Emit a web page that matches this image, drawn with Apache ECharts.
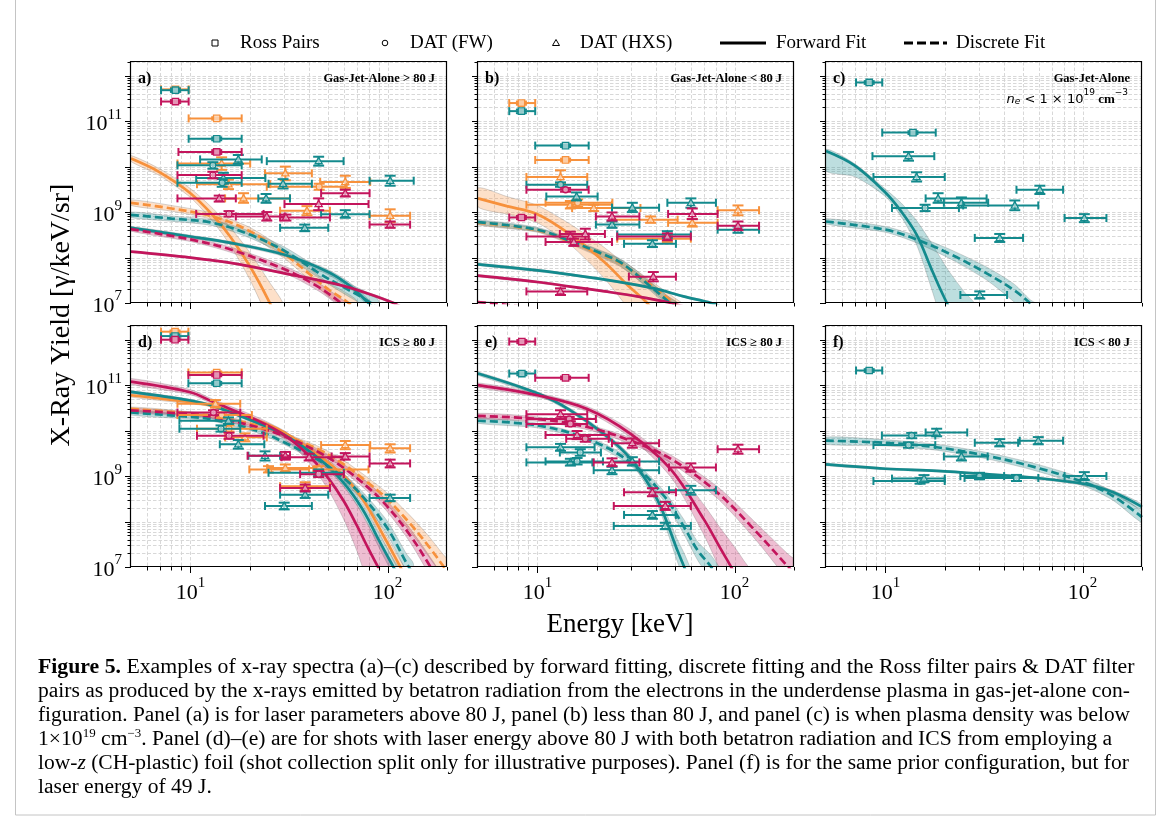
<!DOCTYPE html>
<html>
<head>
<meta charset="utf-8">
<script src="https://cdn.jsdelivr.net/npm/echarts@6/dist/echarts.min.js"></script>
<style>
  html, body { margin: 0; padding: 0; background: #fff; }
  #chart { width: 1168px; height: 821px; }
</style>
</head>
<body>
<div id="chart"></div>
<script>
// point rows: [E, Elo, Ehi, Y, Ylo, Yhi, marker]  marker 0 = Ross pair, 1 = DAT (FW), 2 = DAT (HXS)
// curve rows: [E, Y, Ylo, Yhi]

// ---- panel a : Gas-Jet-Alone > 80 J
const aOrange = [
  [8.4, 7.1, 9.8, 5.0e11, 4.6e11, 5.4e11, 0], [13.6, 9.8, 18.2, 1.15e11, 1.08e11, 1.22e11, 0],
  [14.4, 8.6, 20.1, 1.17e10, 8.5e9, 1.6e10, 2], [15.6, 10.8, 25.4, 4.1e9, 3.2e9, 5.2e9, 2],
  [30.3, 23.9, 41.3, 7.1e9, 5.0e9, 1.0e10, 2], [61, 45.5, 81.6, 4.6e9, 3.4e9, 6.3e9, 2],
  [45, 24.4, 62, 3.6e9, 3.1e9, 4.2e9, 1], [18.6, 15, 32, 2.0e9, 1.6e9, 2.6e9, 2],
  [39, 28.5, 51, 1.07e9, 8.5e8, 1.35e9, 2], [103, 81, 130, 8.3e8, 6.0e8, 1.15e9, 2]
];
const aTeal = [
  [8.4, 7.1, 9.8, 4.8e11, 4.4e11, 5.2e11, 0], [13.6, 9.8, 18.2, 4.1e10, 3.8e10, 4.4e10, 0],
  [17.5, 11.2, 23.0, 1.44e10, 1.15e10, 1.8e10, 2], [13.0, 8.6, 18.2, 1.07e10, 9.0e9, 1.25e10, 1],
  [44.7, 24.4, 59.8, 1.32e10, 1.05e10, 1.65e10, 2], [14.7, 10.7, 24.0, 5.6e9, 4.2e9, 7.3e9, 2],
  [14.5, 8.6, 18.2, 4.4e9, 3.6e9, 5.3e9, 1], [29.5, 24.9, 41.3, 4.2e9, 3.3e9, 5.3e9, 2],
  [103, 81, 135.6, 4.9e9, 3.8e9, 6.3e9, 2], [24.2, 22.1, 32, 2.0e9, 1.6e9, 2.5e9, 2],
  [61, 46, 81, 9.0e8, 7.5e8, 1.1e9, 2], [38, 28.5, 50, 4.5e8, 3.8e8, 5.3e8, 2]
];
const aMagenta = [
  [8.4, 7.1, 9.8, 2.7e11, 2.5e11, 2.9e11, 0], [13.6, 8.7, 18.2, 2.1e10, 1.9e10, 2.3e10, 0],
  [13.0, 8.6, 18.2, 6.5e9, 5.5e9, 7.7e9, 1], [61, 46, 81, 2.6e9, 2.2e9, 3.1e9, 2],
  [14.0, 8.6, 17.0, 2.0e9, 1.7e9, 2.3e9, 2], [44.7, 30, 80, 1.5e9, 1.1e9, 2.0e9, 2],
  [15.7, 10.7, 23.5, 9.1e8, 8.0e8, 1.05e9, 1], [24.4, 17, 30, 8.0e8, 6.5e8, 1.0e9, 2],
  [30.5, 28.5, 51, 7.6e8, 6.5e8, 8.8e8, 2], [103, 81, 130, 5.3e8, 4.5e8, 6.2e8, 2]
];
const aOrangeFwd = [[5, 1.5e10, 1.3e10, 1.75e10], [7, 7.5e9, 6.3e9, 8.9e9], [10, 2.6e9, 2.1e9, 3.3e9], [13, 8.5e8, 6.2e8, 1.2e9],
  [16, 2.8e8, 1.8e8, 4.5e8], [20, 6.5e7, 3.3e7, 1.3e8], [25, 1.1e7, 4e6, 3e7], [30, 2e6, 5e5, 8e6]];
const aOrangeDisc = [[5, 1.6e9, 1.4e9, 1.85e9], [8, 1.2e9, 1.05e9, 1.4e9], [13, 8e8, 6.8e8, 9.4e8], [20, 3.8e8, 3.1e8, 4.6e8],
  [30, 1.2e8, 9.5e7, 1.5e8], [40, 4.4e7, 3.3e7, 5.8e7], [50, 2e7, 1.4e7, 2.8e7], [60, 1.2e7, 8e6, 1.8e7], [70, 7e6, 4.5e6, 1.1e7]];
const aTealFwd = [[5, 4.5e8, 4.2e8, 4.8e8], [10, 2.9e8, 2.7e8, 3.1e8], [16, 2.1e8, 1.95e8, 2.25e8], [30, 1.15e8, 1.05e8, 1.25e8],
  [50, 4.8e7, 4.2e7, 5.4e7], [65, 2.3e7, 2e7, 2.7e7], [80, 1e7, 8.5e6, 1.2e7], [90, 6e6, 5e6, 7.5e6]];
const aTealDisc = [[5, 8.7e8, 7.6e8, 1e9], [8, 7.2e8, 6.3e8, 8.2e8], [13, 5.8e8, 5e8, 6.7e8], [20, 3.2e8, 2.7e8, 3.8e8],
  [30, 1.4e8, 1.15e8, 1.7e8], [45, 4.5e7, 3.5e7, 5.8e7], [60, 2.2e7, 1.6e7, 3e7], [75, 1.3e7, 9e6, 1.9e7], [90, 7.5e6, 5e6, 1.15e7]];
const aMagentaFwd = [[5, 1.35e8, 1.3e8, 1.4e8], [10, 1e8, 9.6e7, 1.04e8], [16, 7.6e7, 7.3e7, 7.9e7], [30, 4.5e7, 4.3e7, 4.7e7],
  [57, 2.5e7, 2.4e7, 2.6e7], [80, 1.6e7, 1.5e7, 1.7e7], [107, 1e7, 9.4e6, 1.06e7], [125, 7e6, 6.5e6, 7.5e6]];
const aMagentaDisc = [[5, 4.2e8, 3.8e8, 4.6e8], [10, 2.5e8, 2.25e8, 2.8e8], [16, 1.5e8, 1.3e8, 1.7e8], [30, 5.5e7, 4.6e7, 6.5e7],
  [45, 2.2e7, 1.8e7, 2.7e7], [58, 1e7, 8e6, 1.25e7], [65, 6.5e6, 5e6, 8.5e6]];

// ---- panel b : Gas-Jet-Alone < 80 J
const bOrange = [
  [8.3, 7.2, 9.75, 2.5e11, 2.3e11, 2.7e11, 0], [13.9, 9.75, 18.2, 1.4e10, 1.3e10, 1.5e10, 0],
  [13.1, 8.8, 17.9, 5.9e9, 4.2e9, 8.3e9, 2], [14.7, 8.8, 23.9, 1.45e9, 1.2e9, 1.75e9, 2],
  [16, 11, 24, 1.6e9, 1.3e9, 1.9e9, 1], [19.3, 15, 33.3, 1.23e9, 1.05e9, 1.45e9, 2],
  [37.5, 24.4, 51.4, 6.8e8, 5.8e8, 8e8, 2], [104, 82, 133, 1.1e9, 8.5e8, 1.4e9, 2],
  [61, 46, 82, 5.8e8, 4.8e8, 7e8, 2], [45.6, 25.4, 60, 2.6e8, 2.2e8, 3.1e8, 2]
];
const bTeal = [
  [8.3, 7.2, 9.75, 1.66e11, 1.5e11, 1.8e11, 0], [13.9, 9.75, 18.2, 2.9e10, 2.7e10, 3.1e10, 0],
  [13.1, 8.8, 17.9, 4.0e9, 3.6e9, 4.5e9, 1], [15.8, 11.1, 20.2, 2.2e9, 1.8e9, 2.7e9, 2],
  [30.3, 23.9, 41.4, 1.25e9, 1e9, 1.6e9, 2], [60, 45.6, 80.4, 1.6e9, 1.25e9, 2e9, 2],
  [23.9, 19.8, 32.9, 5.3e8, 4.5e8, 6.2e8, 2], [104, 82, 133, 4.1e8, 3.5e8, 4.8e8, 2],
  [45.6, 25.4, 60, 3.2e8, 2.7e8, 3.8e8, 2], [38.3, 27.5, 50.4, 2e8, 1.7e8, 2.4e8, 2]
];
const bMagenta = [
  [8.3, 7.2, 9.75, 7.6e8, 7e8, 8.2e8, 0], [13.9, 8.8, 18.2, 3.1e9, 2.8e9, 3.4e9, 1],
  [23.9, 19.8, 32.9, 8e8, 6.5e8, 9.8e8, 2], [61, 46, 82, 9.1e8, 7e8, 1.2e9, 2],
  [104, 82, 133, 5e8, 4e8, 6.2e8, 2], [45.6, 25.4, 60, 2.9e8, 2.4e8, 3.4e8, 2],
  [14.7, 8.8, 18.2, 2.9e8, 2.2e8, 3.7e8, 2], [17.5, 13, 22, 3.3e8, 2.5e8, 4.3e8, 2],
  [15.3, 11, 23.9, 2.2e8, 1.8e8, 2.6e8, 2], [38.7, 29.1, 50.4, 3.8e7, 3e7, 4.8e7, 2],
  [13.1, 8.8, 17.9, 1.8e7, 1.5e7, 2.1e7, 2]
];
const bOrangeFwd = [[5, 2e9, 1.3e9, 3.4e9], [7, 1.35e9, 9e8, 2.2e9], [10, 9e8, 5.8e8, 1.4e9], [14.7, 3.2e8, 1.9e8, 5.4e8],
  [21.7, 8.2e7, 3.6e7, 1.7e8], [28.6, 2.5e7, 8e6, 6.5e7], [36, 1e7, 2e6, 3.2e7], [45, 3e6, 3e5, 1.5e7], [52, 1e6, 5e4, 9e6]];
const bOrangeDisc = [[5, 5.8e8, 5.2e8, 6.4e8], [10, 4e8, 3.6e8, 4.4e8], [14.7, 2.2e8, 1.95e8, 2.5e8], [20, 1.3e8, 1.1e8, 1.5e8],
  [26.4, 7.5e7, 6.3e7, 9e7], [37.5, 2.5e7, 2e7, 3.1e7], [49, 1e7, 7.5e6, 1.35e7], [56, 6e6, 4.2e6, 8.5e6]];
const bTealFwd = [[5, 7.1e7, 6.7e7, 7.5e7], [10, 5.2e7, 4.9e7, 5.5e7], [14.7, 4.2e7, 4e7, 4.4e7], [25, 3e7, 2.85e7, 3.15e7],
  [39, 2.1e7, 2e7, 2.2e7], [55, 1.4e7, 1.33e7, 1.47e7], [76, 1e7, 9.5e6, 1.05e7], [90, 7.5e6, 7e6, 8e6]];
const bTealDisc = [[5, 6e8, 5.4e8, 6.7e8], [10, 4.1e8, 3.7e8, 4.6e8], [14.7, 2.3e8, 2.05e8, 2.6e8], [20, 1.35e8, 1.15e8, 1.55e8],
  [26.4, 7.8e7, 6.5e7, 9.3e7], [37.5, 2.3e7, 1.85e7, 2.9e7], [47, 1e7, 7.5e6, 1.3e7], [54, 6e6, 4.2e6, 8.5e6]];
const bMagentaFwd = [[5, 4e7, 3.8e7, 4.2e7], [10, 2.9e7, 2.75e7, 3.05e7], [14.7, 2.3e7, 2.2e7, 2.4e7], [22, 1.8e7, 1.72e7, 1.88e7],
  [32, 1.4e7, 1.34e7, 1.46e7], [47.5, 1e7, 9.5e6, 1.05e7], [60, 7.5e6, 7e6, 8e6]];
const bMagentaDisc = [[5, 1.05e7, 1e7, 1.1e7], [8, 8.5e6, 8e6, 9e6], [12, 6.5e6, 6e6, 7e6]];

// ---- panel c : Gas-Jet-Alone, ne < 1e19
const cTeal = [
  [8.28, 7.1, 9.64, 7.1e11, 6.6e11, 7.6e11, 0], [13.8, 9.64, 18.0, 5.6e10, 5.2e10, 6e10, 0],
  [13.1, 8.6, 17.7, 1.7e10, 1.35e10, 2.1e10, 2], [14.4, 8.7, 20.0, 5.9e9, 4.7e9, 7.5e9, 2],
  [15.9, 10.8, 23.6, 1.23e9, 1.05e9, 1.45e9, 1], [18.5, 16, 32.6, 2.0e9, 1.6e9, 2.6e9, 2],
  [24.3, 19.8, 33.2, 1.6e9, 1.25e9, 2.1e9, 2], [45.3, 24.8, 59.6, 1.4e9, 1.1e9, 1.8e9, 2],
  [60.7, 46.2, 79.6, 3.1e9, 2.5e9, 3.8e9, 2], [102, 81, 132, 7.4e8, 6e8, 9e8, 2],
  [38, 28.4, 49.9, 2.7e8, 2.2e8, 3.3e8, 2], [30.1, 24, 41.4, 1.5e7, 1.25e7, 1.8e7, 2]
];
const cTealFwd = [[5, 2.2e10, 8e9, 2.4e10], [7, 1.05e10, 6e9, 1.15e10], [10, 2.7e9, 2.2e9, 3.2e9], [12, 1.05e9, 8e8, 1.6e9],
  [14.4, 3.2e8, 1.9e8, 6.5e8], [17, 6e7, 2.3e7, 2.2e8], [19, 2e7, 5e6, 1e8], [21, 8e6, 1.5e6, 5e7],
  [25, 1.5e6, 2e5, 1.8e7], [29, 3e5, 5e4, 8e6]];
const cTealDisc = [[5, 6.2e8, 5.5e8, 7.2e8], [10, 4.1e8, 3.6e8, 4.8e8], [14.4, 2.5e8, 2.1e8, 3e8], [21.7, 1.15e8, 9e7, 1.45e8],
  [32.6, 4.5e7, 3.2e7, 6.2e7], [45, 1.9e7, 1.05e7, 2.6e7], [54, 1e7, 5e6, 1.2e7], [60, 6e6, 2.5e6, 8.5e6]];

// ---- panel d : ICS >= 80 J
const dOrange = [
  [8.36, 7.1, 9.77, 1.5e12, 1.4e12, 1.6e12, 0], [13.6, 9.77, 18.2, 1.9e11, 1.8e11, 2.0e11, 0],
  [13.4, 8.6, 17.9, 3.9e10, 3.2e10, 4.7e10, 2], [14.4, 8.6, 20.5, 2.2e10, 1.9e10, 2.5e10, 1],
  [15.7, 10.8, 24.4, 1.1e10, 9.5e9, 1.3e10, 1], [18.9, 15, 24.4, 7.1e9, 5.8e9, 8.7e9, 2],
  [24.9, 19.9, 40, 1.4e9, 1.2e9, 1.65e9, 2], [30.3, 24.5, 45, 1.5e9, 1.25e9, 1.8e9, 2],
  [45, 42, 80, 1.4e9, 1.2e9, 1.65e9, 1], [61, 46, 81.6, 4.8e9, 3.9e9, 5.9e9, 2],
  [103, 81, 130, 4.1e9, 3.3e9, 5e9, 2], [38.2, 28.5, 51, 6e8, 4.9e8, 7.3e8, 2]
];
const dTeal = [
  [8.36, 7.1, 9.77, 1.2e12, 1.1e12, 1.3e12, 0], [13.6, 9.77, 18.2, 1.1e11, 1.02e11, 1.18e11, 0],
  [15.6, 8.8, 17.9, 1.65e10, 1.4e10, 1.95e10, 2], [14.3, 8.8, 17.9, 1.1e10, 9.5e9, 1.3e10, 1],
  [17.5, 14.1, 23.7, 5e9, 4e9, 6.2e9, 2], [23.9, 19.7, 28.5, 2.8e9, 2.2e9, 3.5e9, 2],
  [44.7, 24.9, 60, 1.18e9, 1e9, 1.4e9, 1], [38.2, 28.5, 50, 3.9e8, 3.3e8, 4.6e8, 2],
  [29.9, 23.9, 41.3, 2.2e8, 1.85e8, 2.6e8, 2], [103, 81, 130, 3.3e8, 2.8e8, 3.9e8, 2]
];
const dMagenta = [
  [8.36, 7.1, 9.77, 1.0e12, 9.3e11, 1.07e12, 0], [13.6, 9.77, 18.2, 1.67e11, 1.57e11, 1.77e11, 0],
  [13.1, 8.6, 17.9, 2.5e10, 2.2e10, 2.8e10, 1], [15.7, 10.8, 23.5, 7.7e9, 6.6e9, 9e9, 1],
  [30.3, 19.5, 32, 2.8e9, 2.3e9, 3.4e9, 2], [40, 29, 60, 2.6e9, 2.2e9, 3.1e9, 2],
  [61, 52, 81, 2.7e9, 2.3e9, 3.2e9, 2], [103, 81, 130, 1.9e9, 1.55e9, 2.3e9, 2],
  [38.2, 28.5, 51, 5.5e8, 4.6e8, 6.5e8, 2], [44.7, 36, 60, 1.1e9, 9.5e8, 1.3e9, 1]
];
const dOrangeFwd = [[5, 6e10, 5.5e10, 6.5e10], [10, 4.2e10, 3.9e10, 4.5e10], [13, 3.5e10, 3.3e10, 3.7e10], [21.7, 1.7e10, 1.6e10, 1.8e10],
  [30, 9e9, 8.4e9, 9.6e9], [45, 2.8e9, 2.5e9, 3.1e9], [60, 1e9, 8.6e8, 1.15e9], [75, 3e8, 2.5e8, 3.6e8],
  [95, 5e7, 3.8e7, 6.5e7], [116, 1e7, 7e6, 1.4e7], [130, 4e6, 2.6e6, 6e6]];
const dOrangeDisc = [[5, 3e10, 2.7e10, 3.3e10], [10, 2.4e10, 2.2e10, 2.6e10], [13, 2.1e10, 1.9e10, 2.3e10], [21.7, 1.3e10, 1.2e10, 1.45e10],
  [30, 8e9, 7.2e9, 8.9e9], [45, 3.8e9, 3.3e9, 4.4e9], [60, 1.8e9, 1.5e9, 2.2e9], [80, 7e8, 5.5e8, 9e8],
  [99, 3.2e8, 2.4e8, 4.3e8], [130, 9e7, 6e7, 1.35e8], [160, 3e7, 1.8e7, 5e7], [193, 1e7, 5.5e6, 1.8e7], [210, 6e6, 3e6, 1.2e7]];
const dTealFwd = [[5, 7.1e10, 6.7e10, 7.5e10], [10, 4.6e10, 4.3e10, 4.9e10], [13, 3.5e10, 3.3e10, 3.7e10], [21.7, 1.5e10, 1.4e10, 1.6e10],
  [30, 8e9, 7.4e9, 8.7e9], [45, 2.4e9, 2.1e9, 2.7e9], [60, 7e8, 5.8e8, 8.4e8], [75, 1.8e8, 1.4e8, 2.3e8],
  [90, 4e7, 2.8e7, 5.6e7], [107, 1e7, 6.5e6, 1.5e7], [120, 4e6, 2.4e6, 6.5e6]];
const dTealDisc = [[5, 2.5e10, 2.2e10, 2.8e10], [10, 2e10, 1.8e10, 2.2e10], [13, 1.75e10, 1.6e10, 1.9e10], [21.7, 1e10, 9e9, 1.1e10],
  [30, 5.5e9, 4.9e9, 6.2e9], [45, 2.2e9, 1.9e9, 2.6e9], [60, 9e8, 7.5e8, 1.1e9], [75, 3.5e8, 2.8e8, 4.4e8],
  [100, 7e7, 5e7, 1e8], [125, 1.2e7, 7.5e6, 1.9e7], [135, 7e6, 4e6, 1.2e7]];
const dMagentaFwd = [[5, 1.2e11, 1.05e11, 1.4e11], [10, 7e10, 6.2e10, 8e10], [13, 4.3e10, 3.8e10, 4.9e10], [21.7, 1.7e10, 1.45e10, 2e10],
  [30, 8e9, 6.5e9, 9.8e9], [40, 2.8e9, 2e9, 3.8e9], [50, 9e8, 5e8, 1.5e9], [60, 2.8e8, 1.1e8, 6e8],
  [70, 8e7, 2.2e7, 2.3e8], [80, 2.5e7, 4e6, 8e7], [95, 6e6, 5e5, 2.5e7], [110, 1.5e6, 5e4, 8e6]];
const dMagentaDisc = [[5, 2.8e10, 2.5e10, 3.1e10], [10, 2.3e10, 2.1e10, 2.5e10], [13, 2e10, 1.8e10, 2.2e10], [21.7, 1.2e10, 1.1e10, 1.35e10],
  [30, 7.5e9, 6.7e9, 8.4e9], [45, 3.3e9, 2.9e9, 3.8e9], [60, 1.5e9, 1.25e9, 1.8e9], [80, 5.5e8, 4.4e8, 7e8],
  [99, 2.2e8, 1.7e8, 2.9e8], [130, 5e7, 3.5e7, 7e7], [165, 1e7, 6e6, 1.6e7], [180, 5e6, 2.8e6, 8.5e6]];

// ---- panel e : ICS >= 80 J
const eTeal = [
  [8.34, 7.2, 9.75, 1.8e11, 1.65e11, 1.95e11, 0], [13.1, 8.8, 19.5, 4.3e9, 3.6e9, 5.1e9, 2],
  [16.5, 13, 21, 3.3e9, 2.8e9, 3.9e9, 1], [14.7, 8.8, 19, 2e9, 1.7e9, 2.4e9, 2],
  [15.9, 11, 21.5, 2.1e9, 1.8e9, 2.5e9, 1], [23.9, 19.3, 41.4, 1.35e9, 1.1e9, 1.6e9, 2],
  [30.3, 23.9, 41.4, 2.1e9, 1.7e9, 2.6e9, 2], [60, 46.5, 80.4, 4.9e8, 3.9e8, 6.1e8, 2],
  [38.3, 27.5, 50.4, 1.4e8, 1.15e8, 1.7e8, 2], [44.5, 24.4, 60, 8e7, 6.8e7, 9.4e7, 2]
];
const eMagenta = [
  [8.34, 7.2, 9.75, 9.1e11, 8.4e11, 9.8e11, 0], [13.9, 9.75, 18.2, 1.45e11, 1.35e11, 1.55e11, 0],
  [13.1, 8.8, 17.9, 2.3e10, 1.85e10, 2.8e10, 2], [14.5, 8.8, 19.8, 1.8e10, 1.6e10, 2e10, 1],
  [14.7, 8.8, 17.9, 1.4e10, 1.25e10, 1.6e10, 1], [15.9, 11, 23, 8e9, 6.5e9, 9.8e9, 2],
  [17.5, 14, 23, 6.6e9, 5.7e9, 7.6e9, 1], [30.3, 23.9, 41.4, 5.3e9, 4.2e9, 6.7e9, 2],
  [104, 82, 133, 3.9e9, 3.1e9, 4.9e9, 2], [23.9, 19.3, 32.9, 2e9, 1.65e9, 2.45e9, 2],
  [60, 46.5, 80.4, 1.55e9, 1.25e9, 1.9e9, 2], [38.3, 27.5, 50.4, 4.4e8, 3.6e8, 5.4e8, 2],
  [44.5, 24.4, 60, 2.2e8, 1.8e8, 2.7e8, 2]
];
const eTealFwd = [[5, 1.8e11, 1.65e11, 1.95e11], [10, 6.6e10, 6.1e10, 7.1e10], [14.7, 2.8e10, 2.55e10, 3.05e10], [21.7, 8.5e9, 7.6e9, 9.5e9],
  [29.7, 2.4e9, 2.05e9, 2.8e9], [40.6, 3e8, 2.3e8, 4e8], [51.3, 2.3e7, 1.3e7, 4e7], [55.5, 1e7, 5e6, 2e7],
  [60, 4e6, 1.7e6, 9e6], [65, 1.5e6, 5e5, 4e6]];
const eTealDisc = [[5, 1.65e10, 1.45e10, 1.9e10], [10, 1.3e10, 1.15e10, 1.45e10], [17.9, 6.6e9, 5.8e9, 7.5e9], [29.7, 2e9, 1.7e9, 2.4e9],
  [44, 3.6e8, 2.8e8, 4.6e8], [55, 8e7, 5.5e7, 1.15e8], [65, 2.3e7, 1.4e7, 3.6e7], [76, 1e7, 5e6, 1.8e7], [85, 4e6, 1.8e6, 8e6]];
const eMagentaFwd = [[5, 1e11, 9e10, 1.12e11], [10, 6e10, 5.4e10, 6.7e10], [17.9, 3e10, 2.6e10, 3.4e10], [29.7, 8.5e9, 7e9, 1.05e10],
  [47.5, 1.4e9, 9.5e8, 2e9], [70, 1.1e8, 5e7, 2.3e8], [85, 2.5e7, 8e6, 7e7], [96, 1e7, 2.5e6, 3.5e7],
  [110, 3e6, 5e5, 1.5e7], [125, 8e5, 1e5, 6e6]];
const eMagentaDisc = [[5, 2.1e10, 1.85e10, 2.4e10], [10, 1.8e10, 1.6e10, 2e10], [17.9, 1.2e10, 1.05e10, 1.35e10], [29.7, 6e9, 5.1e9, 7e9],
  [47.5, 2.4e9, 1.95e9, 2.9e9], [82, 4.3e8, 3.2e8, 5.8e8], [131, 5.5e7, 3.5e7, 8.5e7], [187, 1e7, 5e6, 1.9e7], [210, 6e6, 2.7e6, 1.2e7]];

// ---- panel f : ICS < 80 J
const fTeal = [
  [8.28, 7.1, 9.64, 2.1e11, 1.95e11, 2.25e11, 0], [13.6, 9.6, 17.9, 7.8e9, 6.8e9, 8.9e9, 1],
  [18.2, 16, 26, 9.1e9, 7.5e9, 1.1e10, 2], [13.1, 8.7, 17.9, 4.8e9, 4.2e9, 5.5e9, 1],
  [38, 28.4, 47.1, 5.4e9, 4.5e9, 6.5e9, 2], [59.6, 48, 79.6, 6e9, 5e9, 7.2e9, 2],
  [24.3, 19.8, 33, 2.7e9, 2.2e9, 3.3e9, 2], [15, 8.7, 20, 7.8e8, 6.8e8, 9e8, 1],
  [15.7, 10.8, 20, 8.8e8, 7.3e8, 1.05e9, 2], [30, 24, 40, 1e9, 8.5e8, 1.18e9, 1],
  [46.2, 25.2, 59.6, 9.1e8, 7.8e8, 1.06e9, 1], [102, 81, 132, 1e9, 8.2e8, 1.22e9, 2]
];
const fTealFwd = [[5, 1.8e9, 1.7e9, 1.9e9], [10, 1.45e9, 1.38e9, 1.52e9], [18.2, 1.3e9, 1.24e9, 1.36e9], [32.6, 1.1e9, 1.05e9, 1.15e9],
  [58, 9.1e8, 8.6e8, 9.6e8], [104, 6.6e8, 6.1e8, 7.1e8], [143, 4.4e8, 4e8, 4.8e8], [200, 2.1e8, 1.8e8, 2.4e8]];
const fTealDisc = [[5, 6e9, 5e9, 7.2e9], [10, 5.4e9, 4.6e9, 6.3e9], [18.2, 4.3e9, 3.7e9, 5e9], [32.6, 2.8e9, 2.4e9, 3.3e9],
  [58, 1.55e9, 1.3e9, 1.85e9], [104, 7e8, 5.8e8, 8.5e8], [143, 3.6e8, 2.9e8, 4.5e8], [200, 1.25e8, 9.5e7, 1.6e8]];

// axis ranges
const X_MIN = 5, X_MAX = 200, Y_MIN = 1e7, Y_MAX = 2e12;
const X_TICKS = [6, 7, 8, 9, 10, 20, 30, 40, 50, 60, 70, 80, 90, 100, 200];
const Y_TICKS = [];
for (let e = 7; e <= 12; e++) for (let m = 1; m <= 9; m++) { const v = m * Math.pow(10, e); if (v <= Y_MAX) Y_TICKS.push(v); }

const TEAL = '#138a8d', ORANGE = '#f7913c', MAGENTA = '#c3155c';
const SERIF = '"Liberation Serif", "DejaVu Serif", serif';
const W = 316, H = 241;

const panels = [
  { left: 131, top: 62, tag: 'a)', title: 'Gas-Jet-Alone > 80 J', sets: [
    { color: ORANGE, pts: aOrange, fwd: aOrangeFwd, disc: aOrangeDisc },
    { color: TEAL, pts: aTeal, fwd: aTealFwd, disc: aTealDisc },
    { color: MAGENTA, pts: aMagenta, fwd: aMagentaFwd, disc: aMagentaDisc }] },
  { left: 478, top: 62, tag: 'b)', title: 'Gas-Jet-Alone < 80 J', sets: [
    { color: ORANGE, pts: bOrange, fwd: bOrangeFwd, disc: bOrangeDisc },
    { color: TEAL, pts: bTeal, fwd: bTealFwd, disc: bTealDisc },
    { color: MAGENTA, pts: bMagenta, fwd: bMagentaFwd, disc: bMagentaDisc }] },
  { left: 826, top: 62, tag: 'c)', title: 'Gas-Jet-Alone', sets: [
    { color: TEAL, pts: cTeal, fwd: cTealFwd, disc: cTealDisc }] },
  { left: 131, top: 326, tag: 'd)', title: 'ICS \u2265 80 J', sets: [
    { color: ORANGE, pts: dOrange, fwd: dOrangeFwd, disc: dOrangeDisc },
    { color: TEAL, pts: dTeal, fwd: dTealFwd, disc: dTealDisc },
    { color: MAGENTA, pts: dMagenta, fwd: dMagentaFwd, disc: dMagentaDisc }] },
  { left: 478, top: 326, tag: 'e)', title: 'ICS \u2265 80 J', sets: [
    { color: TEAL, pts: eTeal, fwd: eTealFwd, disc: eTealDisc },
    { color: MAGENTA, pts: eMagenta, fwd: eMagentaFwd, disc: eMagentaDisc }] },
  { left: 826, top: 326, tag: 'f)', title: 'ICS < 80 J', sets: [
    { color: TEAL, pts: fTeal, fwd: fTealFwd, disc: fTealDisc }] }
];

function rgba(hex, a) {
  const n = parseInt(hex.slice(1), 16);
  return 'rgba(' + (n >> 16) + ',' + ((n >> 8) & 255) + ',' + (n & 255) + ',' + a + ')';
}
function seg(x1, y1, x2, y2, style) {
  return { type: 'line', shape: { x1, y1, x2, y2 }, style };
}
const isDecade = v => Math.abs(Math.log10(v) - Math.round(Math.log10(v))) < 1e-9;
const crisp = v => Math.round(v) + 0.5;

// grid lines (back) or frame + ticks (front)
function decoSeries(i, front) {
  return {
    type: 'custom', xAxisIndex: i, yAxisIndex: i, silent: true, z: front ? 10 : 1,
    data: [[10, 1e9]],
    renderItem(params, api) {
      const cs = params.coordSys;
      const kids = [];
      const gStyle = { stroke: '#d4d4d4', lineWidth: 0.9, lineDash: [3.5, 2] };
      const tStyle = { stroke: '#000', lineWidth: 1 };
      X_TICKS.forEach(v => {
        const x = crisp(api.coord([v, Y_MIN])[0]);
        if (!front) { if (v < X_MAX) kids.push(seg(x, cs.y, x, cs.y + cs.height, gStyle)); }
        else kids.push(seg(x, cs.y + cs.height, x, cs.y + cs.height + (isDecade(v) ? 6 : 3.5), tStyle));
      });
      Y_TICKS.forEach(v => {
        const y = crisp(api.coord([X_MIN, v])[1]);
        if (!front) { if (v > Y_MIN) kids.push(seg(cs.x, y, cs.x + cs.width, y, gStyle)); }
        else kids.push(seg(cs.x, y, cs.x - (isDecade(v) ? 6 : 3.5), y, tStyle));
      });
      if (front) kids.push({ type: 'rect', shape: { x: crisp(cs.x) - 1, y: crisp(cs.y) - 1, width: Math.round(cs.width), height: Math.round(cs.height) },
        style: { fill: 'none', stroke: '#000', lineWidth: 1.2 } });
      return { type: 'group', children: kids };
    }
  };
}

function bandSeries(i, curve, color) {
  return {
    type: 'custom', xAxisIndex: i, yAxisIndex: i, silent: true, z: 2, clip: true,
    data: [[10, 1e9]],
    renderItem(params, api) {
      const up = curve.map(c => api.coord([c[0], c[3]]));
      const dn = curve.map(c => api.coord([c[0], c[2]])).reverse();
      return { type: 'polygon', shape: { points: up.concat(dn), smooth: 0.25 },
        style: { fill: rgba(color, 0.28), stroke: 'rgba(110,110,110,0.28)', lineWidth: 1 } };
    }
  };
}

function curveSeries(i, curve, color, dashed) {
  return {
    type: 'line', xAxisIndex: i, yAxisIndex: i, silent: true, z: 3, clip: true,
    data: curve.map(c => [c[0], c[1]]), smooth: 0.35, symbol: 'none',
    lineStyle: { color, width: 2.7, type: dashed ? [8, 4] : 'solid' }
  };
}

function marker(kind, x, y, color, fill) {
  if (kind === 0) return { type: 'rect', shape: { x: x - 3.2, y: y - 3.2, width: 6.4, height: 6.4 }, style: { fill, stroke: color, lineWidth: 1.3 } };
  if (kind === 1) return { type: 'circle', shape: { cx: x, cy: y, r: 3 }, style: { fill, stroke: color, lineWidth: 1.3 } };
  return { type: 'polygon', shape: { points: [[x, y - 3.8], [x + 3.6, y + 2.6], [x - 3.6, y + 2.6]] }, style: { fill, stroke: color, lineWidth: 1.3 } };
}

function pointSeries(i, pts, color) {
  return {
    type: 'custom', xAxisIndex: i, yAxisIndex: i, silent: true, z: 5, clip: true,
    data: pts.map(p => [p[0], p[3]]),
    renderItem(params, api) {
      const p = pts[params.dataIndex];
      const c = api.coord([p[0], p[3]]);
      const l = api.coord([p[1], p[3]])[0], r = api.coord([p[2], p[3]])[0];
      const lo = api.coord([p[0], p[4]])[1], hi = api.coord([p[0], p[5]])[1];
      const st = { stroke: color, lineWidth: 2 };
      return { type: 'group', children: [
        seg(l, c[1], r, c[1], st), seg(l, c[1] - 4, l, c[1] + 4, st), seg(r, c[1] - 4, r, c[1] + 4, st),
        seg(c[0], lo, c[0], hi, st), seg(c[0] - 5.5, lo, c[0] + 5.5, lo, st), seg(c[0] - 5.5, hi, c[0] + 5.5, hi, st),
        marker(p[6], c[0], c[1], color, 'rgba(255,255,255,0.55)')
      ] };
    }
  };
}

const supRich = {
  b: { fontSize: 22, fontFamily: SERIF, color: '#000', lineHeight: 28, verticalAlign: 'bottom' },
  s: { fontSize: 15, fontFamily: SERIF, color: '#000', verticalAlign: 'top' }
};

const grids = [], xAxes = [], yAxes = [], series = [];
panels.forEach((p, i) => {
  const bottomRow = p.top > 200, leftCol = p.left < 200;
  grids.push({ left: p.left, top: p.top, width: W, height: H, show: false, containLabel: false, outerBoundsMode: 'none' });
  xAxes.push({ type: 'log', logBase: 10, gridIndex: i, min: X_MIN, max: X_MAX,
    axisLine: { show: false }, axisTick: { show: false }, splitLine: { show: false },
    axisLabel: { show: bottomRow, interval: 0, margin: 9, rich: supRich,
      formatter: v => isDecade(v) ? '{b|10}{s|' + Math.round(Math.log10(v)) + '}' : '' } });
  yAxes.push({ type: 'log', logBase: 10, gridIndex: i, min: Y_MIN, max: Y_MAX,
    axisLine: { show: false }, axisTick: { show: false }, splitLine: { show: false },
    axisLabel: { show: leftCol, interval: 0, margin: 9, rich: supRich,
      formatter: v => { const e = Math.round(Math.log10(v)); return isDecade(v) && e % 2 === 1 ? '{b|10}{s|' + e + '}' : ''; } } });
  series.push(decoSeries(i, false));
  p.sets.forEach(s => {
    series.push(bandSeries(i, s.fwd, s.color), bandSeries(i, s.disc, s.color));
  });
  p.sets.forEach(s => {
    series.push(curveSeries(i, s.fwd, s.color, false), curveSeries(i, s.disc, s.color, true));
  });
  p.sets.forEach(s => series.push(pointSeries(i, s.pts, s.color)));
  series.push(decoSeries(i, true));
});

// text decorations
const graphic = [];
function txt(x, y, text, opts) {
  return Object.assign({ type: 'text', x, y, silent: true, z: 20, style: Object.assign({ text, fill: '#000', fontFamily: SERIF,
    align: 'left', verticalAlign: 'middle', textAlign: 'left', textVerticalAlign: 'middle' }, opts.style || {}) }, opts.el || {});
}
graphic.push({ type: 'rect', silent: true, shape: { x: 15.5, y: -2, width: 1140, height: 817 }, style: { fill: 'none', stroke: '#c4c4c4', lineWidth: 1 } });

panels.forEach(p => {
  graphic.push(txt(p.left + 7, p.top + 17, p.tag, { style: { fontSize: 16, fontWeight: 'bold' } }));
  graphic.push(txt(p.left + W - 12, p.top + 17, p.title, { style: { fontSize: 12.5, fontWeight: 'bold', align: 'right', textAlign: 'right' } }));
});
graphic.push(txt(826 + W - 14, 62 + 35, '{i|n}{sub|e}{m| < 1 \u00d7 10}{sup|19}{bs| cm}{sup|\u22123}', { style: {
  align: 'right', textAlign: 'right', fontSize: 13,
  rich: {
    i: { fontFamily: '"DejaVu Sans"', fontStyle: 'italic', fontSize: 13, verticalAlign: 'bottom', lineHeight: 18 },
    sub: { fontFamily: '"DejaVu Sans"', fontStyle: 'italic', fontSize: 9, verticalAlign: 'bottom', lineHeight: 14 },
    m: { fontFamily: '"DejaVu Sans"', fontSize: 13, verticalAlign: 'bottom', lineHeight: 18 },
    sup: { fontFamily: '"DejaVu Sans"', fontSize: 9, verticalAlign: 'top', lineHeight: 14 },
    bs: { fontFamily: SERIF, fontWeight: 'bold', fontSize: 13, verticalAlign: 'bottom', lineHeight: 18 }
  } } }));

// axis titles
graphic.push(txt(62, 315, 'X-Ray Yield [\u03b3/keV/sr]', { style: { fontSize: 28, align: 'center', textAlign: 'center' }, el: { rotation: Math.PI / 2 } }));
graphic.push(txt(620, 625, 'Energy [keV]', { style: { fontSize: 27, align: 'center', textAlign: 'center' } }));

// legend
const LY = 43, LF = 19;
graphic.push({ type: 'rect', silent: true, shape: { x: 212, y: LY - 3, width: 6, height: 6 }, style: { fill: 'none', stroke: '#000', lineWidth: 1 } });
graphic.push(txt(240, LY, 'Ross Pairs', { style: { fontSize: LF } }));
graphic.push({ type: 'circle', silent: true, shape: { cx: 385, cy: LY, r: 2.8 }, style: { fill: 'none', stroke: '#000', lineWidth: 1 } });
graphic.push(txt(410, LY, 'DAT (FW)', { style: { fontSize: LF } }));
graphic.push({ type: 'polygon', silent: true, shape: { points: [[556, LY - 3.5], [559.5, LY + 2.5], [552.5, LY + 2.5]] }, style: { fill: 'none', stroke: '#000', lineWidth: 1 } });
graphic.push(txt(580, LY, 'DAT (HXS)', { style: { fontSize: LF } }));
graphic.push({ type: 'line', silent: true, shape: { x1: 720, y1: LY, x2: 766, y2: LY }, style: { stroke: '#000', lineWidth: 3 } });
graphic.push(txt(776, LY, 'Forward Fit', { style: { fontSize: LF } }));
graphic.push({ type: 'line', silent: true, shape: { x1: 904, y1: LY, x2: 947, y2: LY }, style: { stroke: '#000', lineWidth: 3, lineDash: [9, 4] } });
graphic.push(txt(956, LY, 'Discrete Fit', { style: { fontSize: LF } }));

// caption
const captionLines = [
  '{b|Figure 5.} Examples of x-ray spectra (a)\u2013(c) described by forward fitting, discrete fitting and the Ross filter pairs & DAT filter',
  'pairs as produced by the x-rays emitted by betatron radiation from the electrons in the underdense plasma in gas-jet-alone con-',
  'figuration. Panel (a) is for laser parameters above 80 J, panel (b) less than 80 J, and panel (c) is when plasma density was below',
  '1\u00d710{sup|19} cm{sup|\u22123}. Panel (d)\u2013(e) are for shots with laser energy above 80 J with both betatron radiation and ICS from employing a',
  'low-{i|z} (CH-plastic) foil (shot collection split only for illustrative purposes). Panel (f) is for the same prior configuration, but for',
  'laser energy of 49 J.'
];
const CAP_SIZE = 20, CAP_LEFT = 38, CAP_RIGHT = 1130;
const mctx = document.createElement('canvas').getContext('2d');
mctx.font = CAP_SIZE + 'px ' + SERIF;
const plainWidth = s => mctx.measureText(s.replace(/\{\w+\|([^}]*)\}/g, '$1')).width;
const scales = captionLines.map(s => (CAP_RIGHT - CAP_LEFT) / plainWidth(s));
const avgScale = scales.slice(0, 5).reduce((a, b) => a + b, 0) / 5;
captionLines.forEach((s, k) => {
  graphic.push(txt(CAP_LEFT, 668 + k * 24, s, {
    style: { fontSize: CAP_SIZE, lineHeight: 24, rich: {
      b: { fontWeight: 'bold', fontSize: CAP_SIZE, fontFamily: SERIF, lineHeight: 24 },
      sup: { fontSize: 12, fontFamily: SERIF, verticalAlign: 'top', lineHeight: 18 },
      i: { fontStyle: 'italic', fontSize: CAP_SIZE, fontFamily: SERIF, lineHeight: 24 }
    } },
    el: { scaleX: k < 5 ? scales[k] : avgScale }
  }));
});

const chart = echarts.init(document.getElementById('chart'));
chart.setOption({
  animation: false,
  backgroundColor: '#fff',
  grid: grids, xAxis: xAxes, yAxis: yAxes, series, graphic
});
</script>
</body>
</html>
